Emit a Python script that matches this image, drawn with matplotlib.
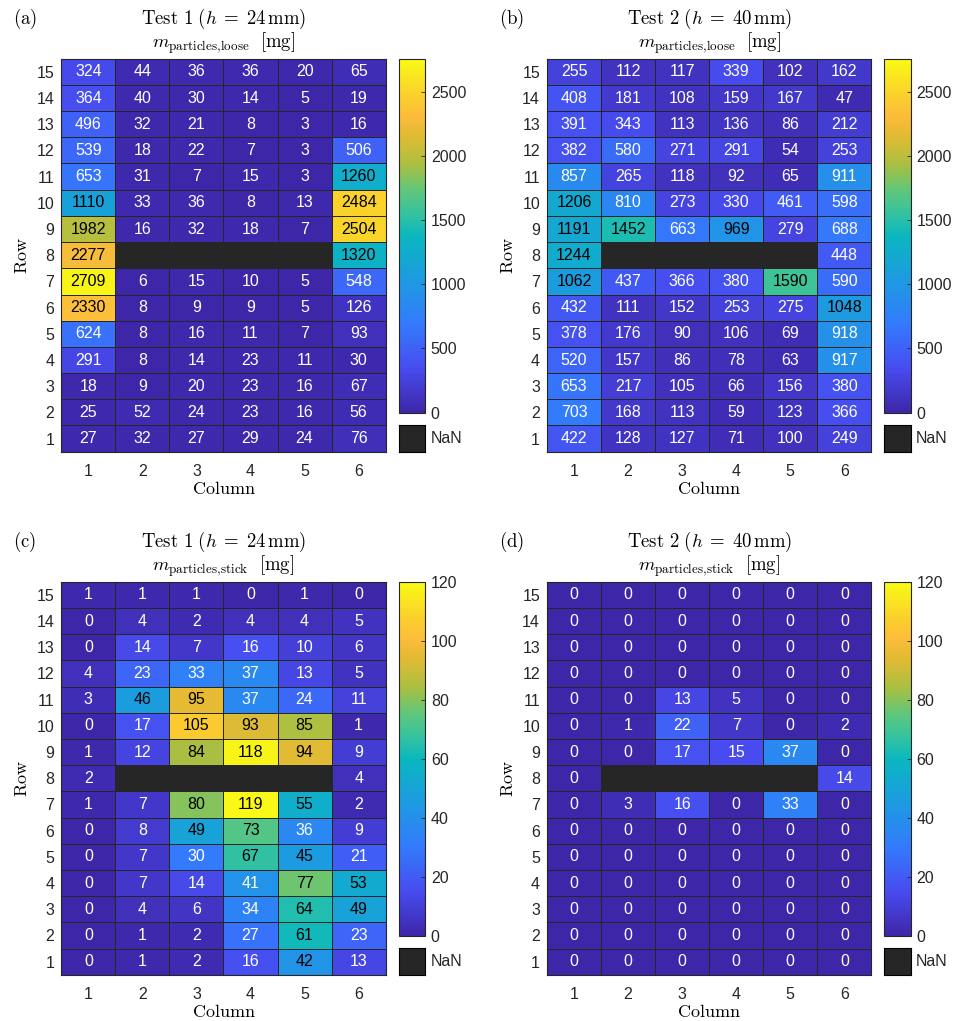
import numpy as np
import matplotlib

matplotlib.use("Agg")
import matplotlib.pyplot as plt
from matplotlib.colors import LinearSegmentedColormap

plt.rcParams["font.family"] = ["Liberation Sans", "DejaVu Sans"]
plt.rcParams["mathtext.fontset"] = "cm"

# rows listed from row 15 (top) down to row 1, columns 1..6
nan = np.nan
loose_test1 = [
    [324, 44, 36, 36, 20, 65],
    [364, 40, 30, 14, 5, 19],
    [496, 32, 21, 8, 3, 16],
    [539, 18, 22, 7, 3, 506],
    [653, 31, 7, 15, 3, 1260],
    [1110, 33, 36, 8, 13, 2484],
    [1982, 16, 32, 18, 7, 2504],
    [2277, nan, nan, nan, nan, 1320],
    [2709, 6, 15, 10, 5, 548],
    [2330, 8, 9, 9, 5, 126],
    [624, 8, 16, 11, 7, 93],
    [291, 8, 14, 23, 11, 30],
    [18, 9, 20, 23, 16, 67],
    [25, 52, 24, 23, 16, 56],
    [27, 32, 27, 29, 24, 76],
]
loose_test2 = [
    [255, 112, 117, 339, 102, 162],
    [408, 181, 108, 159, 167, 47],
    [391, 343, 113, 136, 86, 212],
    [382, 580, 271, 291, 54, 253],
    [857, 265, 118, 92, 65, 911],
    [1206, 810, 273, 330, 461, 598],
    [1191, 1452, 663, 969, 279, 688],
    [1244, nan, nan, nan, nan, 448],
    [1062, 437, 366, 380, 1590, 590],
    [432, 111, 152, 253, 275, 1048],
    [378, 176, 90, 106, 69, 918],
    [520, 157, 86, 78, 63, 917],
    [653, 217, 105, 66, 156, 380],
    [703, 168, 113, 59, 123, 366],
    [422, 128, 127, 71, 100, 249],
]
stick_test1 = [
    [1, 1, 1, 0, 1, 0],
    [0, 4, 2, 4, 4, 5],
    [0, 14, 7, 16, 10, 6],
    [4, 23, 33, 37, 13, 5],
    [3, 46, 95, 37, 24, 11],
    [0, 17, 105, 93, 85, 1],
    [1, 12, 84, 118, 94, 9],
    [2, nan, nan, nan, nan, 4],
    [1, 7, 80, 119, 55, 2],
    [0, 8, 49, 73, 36, 9],
    [0, 7, 30, 67, 45, 21],
    [0, 7, 14, 41, 77, 53],
    [0, 4, 6, 34, 64, 49],
    [0, 1, 2, 27, 61, 23],
    [0, 1, 2, 16, 42, 13],
]
stick_test2 = [
    [0, 0, 0, 0, 0, 0],
    [0, 0, 0, 0, 0, 0],
    [0, 0, 0, 0, 0, 0],
    [0, 0, 0, 0, 0, 0],
    [0, 0, 13, 5, 0, 0],
    [0, 1, 22, 7, 0, 2],
    [0, 0, 17, 15, 37, 0],
    [0, nan, nan, nan, nan, 14],
    [0, 3, 16, 0, 33, 0],
    [0, 0, 0, 0, 0, 0],
    [0, 0, 0, 0, 0, 0],
    [0, 0, 0, 0, 0, 0],
    [0, 0, 0, 0, 0, 0],
    [0, 0, 0, 0, 0, 0],
    [0, 0, 0, 0, 0, 0],
]

panel_labels = ["(a)", "(b)", "(c)", "(d)"]
titles = [r"Test\ 1\ (}h\;=\;24\,\mathrm{mm)", r"Test\ 2\ (}h\;=\;40\,\mathrm{mm)"] * 2
subtitles = ["loose", "loose", "stick", "stick"]
loose_ticks = [0, 500, 1000, 1500, 2000, 2500]
stick_ticks = [0, 20, 40, 60, 80, 100, 120]
loose_max = 2757
stick_max = 120

# approximation of MATLAB parula
parula = LinearSegmentedColormap.from_list("parula", [
    (0.000, (0.2422, 0.1504, 0.6603)),
    (0.125, (0.2813, 0.2985, 0.9397)),
    (0.250, (0.2006, 0.4805, 0.9900)),
    (0.375, (0.1129, 0.6048, 0.8834)),
    (0.500, (0.0400, 0.7200, 0.7500)),
    (0.560, (0.2000, 0.7600, 0.6300)),
    (0.630, (0.3800, 0.7800, 0.4800)),
    (0.700, (0.6600, 0.7500, 0.2600)),
    (0.750, (0.8000, 0.7400, 0.2200)),
    (0.790, (0.9000, 0.7300, 0.2000)),
    (0.840, (0.9900, 0.7400, 0.2300)),
    (0.900, (0.9800, 0.8200, 0.1700)),
    (1.000, (0.9769, 0.9839, 0.0805)),
], N=256)
parula.set_bad("#262626")

fig = plt.figure(figsize=(9.58, 10.21), dpi=100)
W, H = 958, 1021

panels = [loose_test1, loose_test2, stick_test1, stick_test2]
xoff = [61.3, 547.0, 61.3, 547.0]
ytop = [58.7, 58.7, 581.7, 581.7]

for i, data in enumerate(panels):
    z = np.flipud(np.array(data, dtype=float))
    vmax = loose_max if i < 2 else stick_max
    ticks = loose_ticks if i < 2 else stick_ticks
    x0, y0 = xoff[i], ytop[i]
    ax_w, ax_h = 324.4, 393.0
    ax = fig.add_axes([x0 / W, 1 - (y0 + ax_h) / H, ax_w / W, ax_h / H])
    ax.set_facecolor("#262626")
    mesh = ax.pcolormesh(np.arange(0.5, 7.5), np.arange(0.5, 16.5), np.ma.masked_invalid(z),
                         cmap=parula, vmin=0, vmax=vmax, edgecolors="#262626", linewidth=0.6)
    for r in range(z.shape[0]):
        for c in range(z.shape[1]):
            v = z[r, c]
            if np.isnan(v):
                continue
            col = "black" if v / vmax > 0.345 else "white"
            ax.text(c + 1, r + 1, f"{int(v)}", ha="center", va="center", fontsize=11.5, color=col)
    ax.set_xlim(0.5, 6.5)
    ax.set_ylim(0.5, 15.5)
    ax.set_xticks(range(1, 7))
    ax.set_yticks(range(1, 16))
    ax.tick_params(length=0, labelsize=11.5, colors="#262626")
    ax.tick_params(axis="x", pad=9)
    ax.tick_params(axis="y", pad=5)
    for s in ax.spines.values():
        s.set_color("#262626")
        s.set_linewidth(0.8)
    ax.set_xlabel(r"$\mathrm{Column}$", fontsize=13, labelpad=1)
    ax.set_ylabel(r"$\mathrm{Row}$", fontsize=13, labelpad=4)

    cx = (x0 + ax_w / 2) / W
    fig.text(cx, 1 - (y0 - 40) / H, r"$\mathrm{" + titles[i] + "}$", ha="center", va="center", fontsize=13.5)
    fig.text(cx, 1 - (y0 - 15) / H, r"$m_{\mathrm{particles{,}" + subtitles[i] + r"}}\ \ [\mathrm{mg}]$",
             ha="center", va="center", fontsize=13.5)
    fig.text((x0 - 48) / W, 1 - (y0 - 40) / H, r"$\mathrm{" + panel_labels[i] + "}$",
             ha="left", va="center", fontsize=13.5)

    cb_x = x0 + ax_w + 12.8
    cb_h = 354.0
    cax = fig.add_axes([cb_x / W, 1 - (y0 + cb_h) / H, 26.7 / W, cb_h / H])
    cb = fig.colorbar(mesh, cax=cax, ticks=ticks)
    cb.outline.set_linewidth(0.8)
    cb.outline.set_edgecolor("#262626")
    cax.tick_params(direction="in", length=3, width=0.6, labelsize=11.5, pad=4, colors="#262626")

    nax = fig.add_axes([cb_x / W, 1 - (y0 + ax_h) / H, 26.7 / W, 26.4 / H])
    nax.set_facecolor("#262626")
    nax.set_xticks([])
    nax.set_yticks([])
    nax.text(1.2, 0.5, "NaN", transform=nax.transAxes, ha="left", va="center", fontsize=11.5, color="#262626")

fig.savefig("out.png", dpi=100)
